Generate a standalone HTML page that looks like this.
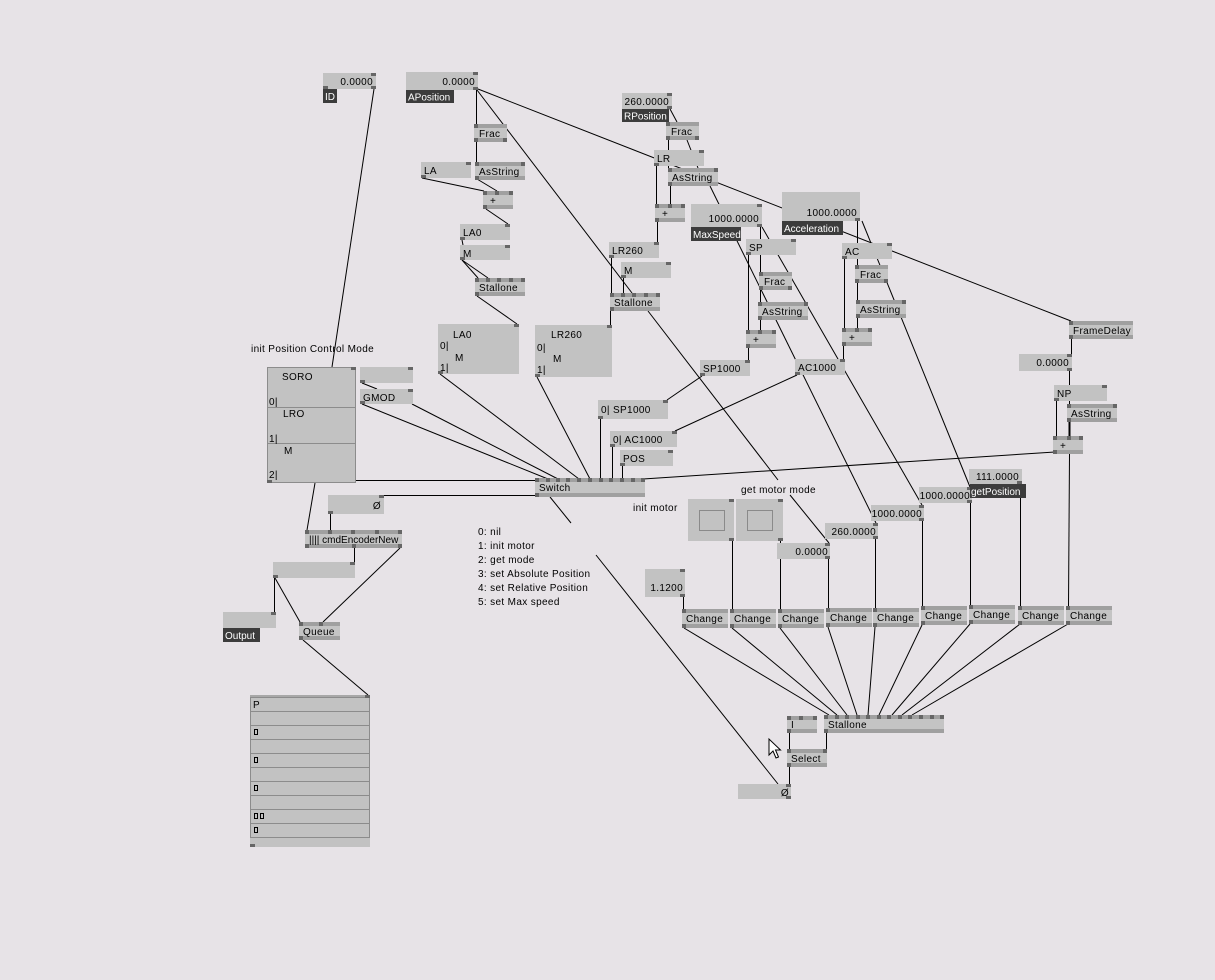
<!DOCTYPE html>
<html><head><meta charset="utf-8"><style>
html,body{margin:0;padding:0;background:#e7e3e7;}
svg{display:block;}
svg text{font-family:"Liberation Sans",sans-serif;font-size:10px;fill:#000;letter-spacing:0.35px;}
svg text.w{fill:#fff;letter-spacing:0;}
svg text.ns{letter-spacing:0;}
.ln{stroke:#000;stroke-width:1;fill:none;}
.bd{fill:#c4c4c4;}
.bn{fill:#a0a0a0;}
.io{fill:#c2c2c2;}
.p{fill:#666;}
.lb{fill:#3c3c3c;}
.fr{fill:#c2c2c2;stroke:#8c8c8c;stroke-width:1;}
</style></head><body>
<svg width="1215" height="980" viewBox="0 0 1215 980" xmlns="http://www.w3.org/2000/svg">
<rect x="0" y="0" width="1215" height="980" fill="#e7e3e7"/>
<g class="ln">
<line x1="374" y1="89" x2="332" y2="367"/>
<line x1="476.5" y1="90" x2="476.5" y2="124"/>
<line x1="478" y1="89" x2="1071" y2="321"/>
<line x1="477" y1="90" x2="632" y2="293"/>
<line x1="476.5" y1="142" x2="476.5" y2="162"/>
<line x1="477" y1="179" x2="497" y2="191"/>
<line x1="422" y1="178" x2="484" y2="191"/>
<line x1="486" y1="209" x2="508" y2="224"/>
<line x1="462" y1="240" x2="463" y2="245"/>
<line x1="462" y1="260" x2="478" y2="278"/>
<line x1="462" y1="260" x2="488" y2="278"/>
<line x1="477" y1="296" x2="517" y2="324"/>
<line x1="440" y1="374" x2="579" y2="479"/>
<line x1="537" y1="377" x2="590" y2="479"/>
<line x1="362" y1="404" x2="548" y2="479"/>
<line x1="412" y1="404" x2="558" y2="479"/>
<line x1="600.5" y1="419" x2="600.5" y2="479"/>
<line x1="612.5" y1="447" x2="612.5" y2="479"/>
<line x1="622.5" y1="466" x2="622.5" y2="479"/>
<line x1="356" y1="480.5" x2="537" y2="480.5"/>
<line x1="382" y1="495.5" x2="537" y2="495.5"/>
<line x1="643" y1="479" x2="1055" y2="452"/>
<line x1="550" y1="497" x2="571" y2="523"/>
<line x1="596" y1="555" x2="778" y2="784"/>
<line x1="315" y1="483" x2="307" y2="530"/>
<line x1="330.5" y1="514" x2="330.5" y2="530"/>
<line x1="354.5" y1="548" x2="354.5" y2="562"/>
<line x1="400" y1="548" x2="323" y2="622"/>
<line x1="274.5" y1="578" x2="274.5" y2="612"/>
<line x1="275" y1="578" x2="300" y2="622"/>
<line x1="303" y1="640" x2="368" y2="695"/>
<line x1="362" y1="383" x2="377" y2="389"/>
<line x1="670" y1="109" x2="677" y2="122"/>
<line x1="668.5" y1="140" x2="668.5" y2="168"/>
<line x1="687" y1="140" x2="698" y2="168"/>
<line x1="656.5" y1="166" x2="656.5" y2="204"/>
<line x1="670.5" y1="186" x2="670.5" y2="204"/>
<line x1="657.5" y1="222" x2="657.5" y2="242"/>
<line x1="611.5" y1="258" x2="611.5" y2="293"/>
<line x1="623.5" y1="278" x2="623.5" y2="293"/>
<line x1="610.5" y1="311" x2="610.5" y2="325"/>
<line x1="648" y1="311" x2="778" y2="480"/>
<line x1="790" y1="495" x2="829" y2="543"/>
<line x1="710" y1="186" x2="876" y2="523"/>
<line x1="762" y1="227" x2="922" y2="505"/>
<line x1="862" y1="221" x2="970" y2="487"/>
<line x1="760.5" y1="227" x2="760.5" y2="330"/>
<line x1="748.5" y1="255" x2="748.5" y2="330"/>
<line x1="748.5" y1="348" x2="748.5" y2="360"/>
<line x1="702" y1="376" x2="667" y2="400"/>
<line x1="797" y1="375" x2="675" y2="431"/>
<line x1="843.5" y1="346" x2="843.5" y2="359"/>
<line x1="857.5" y1="221" x2="857.5" y2="328"/>
<line x1="844.5" y1="259" x2="844.5" y2="328"/>
<line x1="1071.5" y1="339" x2="1071.5" y2="354"/>
<line x1="1069.5" y1="371" x2="1069.5" y2="404"/>
<line x1="1056.5" y1="401" x2="1056.5" y2="436"/>
<line x1="1069.5" y1="422" x2="1069.5" y2="436" stroke-width="2"/>
<line x1="1069.5" y1="454" x2="1068.5" y2="606"/>
<line x1="1020.5" y1="484" x2="1020.5" y2="606"/>
<line x1="970.5" y1="503" x2="970.5" y2="605"/>
<line x1="922.5" y1="521" x2="922.5" y2="606"/>
<line x1="875.5" y1="539" x2="875.5" y2="608"/>
<line x1="828.5" y1="559" x2="828.5" y2="608"/>
<line x1="780.5" y1="541" x2="780.5" y2="609"/>
<line x1="732.5" y1="541" x2="732.5" y2="609"/>
<line x1="683.5" y1="597" x2="683.5" y2="609"/>
<line x1="684" y1="628" x2="829" y2="715"/>
<line x1="732" y1="628" x2="837" y2="715"/>
<line x1="780" y1="628" x2="847" y2="715"/>
<line x1="828" y1="627" x2="857" y2="715"/>
<line x1="875" y1="627" x2="868" y2="715"/>
<line x1="922" y1="625" x2="879" y2="715"/>
<line x1="970" y1="624" x2="892" y2="715"/>
<line x1="1020" y1="624" x2="902" y2="715"/>
<line x1="1068" y1="624" x2="912" y2="715"/>
<line x1="789.5" y1="733" x2="789.5" y2="749"/>
<line x1="826.5" y1="733" x2="826.5" y2="749"/>
<line x1="789.5" y1="767" x2="789.5" y2="784"/>
</g>

<g>
<rect class="io" x="323" y="73" width="53" height="16"/><rect class="p" x="371" y="73" width="5" height="3"/><rect class="p" x="323" y="86" width="5" height="3"/><rect class="p" x="371" y="86" width="5" height="3"/>
<text x="373" y="85" text-anchor="end">0.0000</text>
<rect class="lb" x="323" y="89" width="14" height="14"/><text class="w" x="325" y="100">ID</text>
<rect class="io" x="406" y="72" width="72" height="18"/><rect class="p" x="473" y="72" width="5" height="3"/><rect class="p" x="473" y="87" width="5" height="3"/>
<text x="475" y="85" text-anchor="end">0.0000</text>
<rect class="lb" x="406" y="90" width="48" height="13"/><text class="w" x="408" y="100.5">APosition</text>
<rect class="io" x="421" y="162" width="50" height="16"/><rect class="p" x="466" y="162" width="5" height="3"/><rect class="p" x="421" y="175" width="5" height="3"/>
<text x="424" y="174">LA</text>
<rect class="io" x="460" y="224" width="50" height="16"/><rect class="p" x="505" y="224" width="5" height="3"/><rect class="p" x="460" y="237" width="5" height="3"/>
<text x="463" y="236">LA0</text>
<rect class="io" x="460" y="245" width="50" height="15"/><rect class="p" x="505" y="245" width="5" height="3"/><rect class="p" x="460" y="257" width="5" height="3"/>
<text x="463" y="257">M</text>
<rect class="io" x="438" y="324" width="81" height="50"/><rect class="p" x="514" y="324" width="5" height="3"/><rect class="p" x="438" y="371" width="5" height="3"/>
<text x="453" y="338">LA0</text><text x="440" y="349">0|</text><text x="455" y="361">M</text><text x="440" y="371">1|</text>
<rect class="io" x="622" y="93" width="50" height="16"/><rect class="p" x="667" y="93" width="5" height="3"/><rect class="p" x="667" y="106" width="5" height="3"/>
<text x="669" y="105" text-anchor="end">260.0000</text>
<rect class="lb" x="622" y="109" width="47" height="13"/><text class="w" x="624" y="119.5">RPosition</text>
<rect class="io" x="654" y="150" width="50" height="16"/><rect class="p" x="699" y="150" width="5" height="3"/><rect class="p" x="654" y="163" width="5" height="3"/>
<text x="657" y="162">LR</text>
<rect class="io" x="691" y="204" width="71" height="23"/><rect class="p" x="757" y="204" width="5" height="3"/><rect class="p" x="757" y="224" width="5" height="3"/>
<text x="759" y="222" text-anchor="end">1000.0000</text>
<rect class="lb" x="691" y="227" width="50" height="14"/><text class="w" x="693" y="238">MaxSpeed</text>
<rect class="io" x="782" y="192" width="78" height="29"/><rect class="p" x="855" y="218" width="5" height="3"/>
<text x="857" y="216" text-anchor="end">1000.0000</text>
<rect class="lb" x="782" y="221" width="61" height="14"/><text class="w" x="784" y="232">Acceleration</text>
<rect class="io" x="609" y="242" width="50" height="16"/><rect class="p" x="654" y="242" width="5" height="3"/><rect class="p" x="609" y="255" width="5" height="3"/>
<text x="612" y="254">LR260</text>
<rect class="io" x="621" y="262" width="50" height="16"/><rect class="p" x="666" y="262" width="5" height="3"/><rect class="p" x="621" y="275" width="5" height="3"/>
<text x="624" y="274">M</text>
<rect class="io" x="535" y="325" width="77" height="52"/><rect class="p" x="607" y="325" width="5" height="3"/><rect class="p" x="535" y="374" width="5" height="3"/>
<text x="551" y="338">LR260</text><text x="537" y="351">0|</text><text x="553" y="362">M</text><text x="537" y="373">1|</text>
<rect class="io" x="746" y="239" width="50" height="16"/><rect class="p" x="791" y="239" width="5" height="3"/><rect class="p" x="746" y="252" width="5" height="3"/>
<text x="749" y="251">SP</text>
<rect class="io" x="700" y="360" width="50" height="16"/><rect class="p" x="745" y="360" width="5" height="3"/><rect class="p" x="700" y="373" width="5" height="3"/>
<text x="703" y="372">SP1000</text>
<rect class="io" x="795" y="359" width="50" height="16"/><rect class="p" x="840" y="359" width="5" height="3"/><rect class="p" x="795" y="372" width="5" height="3"/>
<text x="798" y="371">AC1000</text>
<rect class="io" x="842" y="243" width="50" height="16"/><rect class="p" x="887" y="243" width="5" height="3"/><rect class="p" x="842" y="256" width="5" height="3"/>
<text x="845" y="255">AC</text>
<rect class="io" x="1019" y="354" width="53" height="17"/><rect class="p" x="1067" y="354" width="5" height="3"/><rect class="p" x="1067" y="368" width="5" height="3"/>
<text x="1069" y="366" text-anchor="end">0.0000</text>
<rect class="io" x="1054" y="385" width="53" height="16"/><rect class="p" x="1102" y="385" width="5" height="3"/><rect class="p" x="1054" y="398" width="5" height="3"/>
<text x="1057" y="397">NP</text>
<rect class="io" x="919" y="487" width="53" height="16"/><rect class="p" x="967" y="487" width="5" height="3"/><rect class="p" x="967" y="500" width="5" height="3"/>
<text x="970" y="499" text-anchor="end">1000.0000</text>
<rect class="io" x="969" y="469" width="53" height="15"/><rect class="p" x="1017" y="481" width="5" height="3"/>
<text x="1019" y="480" text-anchor="end">111.0000</text>
<rect class="lb" x="970" y="484" width="56" height="14"/><text class="w" x="971" y="495">getPosition</text>
<rect class="io" x="871" y="505" width="53" height="16"/><rect class="p" x="919" y="505" width="5" height="3"/><rect class="p" x="919" y="518" width="5" height="3"/>
<text x="922" y="517" text-anchor="end">1000.0000</text>
<rect class="io" x="825" y="523" width="53" height="16"/><rect class="p" x="873" y="523" width="5" height="3"/><rect class="p" x="873" y="536" width="5" height="3"/>
<text x="876" y="535" text-anchor="end">260.0000</text>
<rect class="io" x="777" y="543" width="53" height="16"/><rect class="p" x="825" y="543" width="5" height="3"/><rect class="p" x="825" y="556" width="5" height="3"/>
<text x="828" y="555" text-anchor="end">0.0000</text>
<rect class="io" x="688" y="499" width="46" height="42"/><rect x="699.5" y="510.5" width="25" height="20" fill="none" stroke="#8a8a8a"/><rect class="p" x="729" y="499" width="5" height="3"/><rect class="p" x="729" y="538" width="5" height="3"/>
<rect class="io" x="736" y="499" width="47" height="42"/><rect x="747.5" y="510.5" width="25" height="20" fill="none" stroke="#8a8a8a"/><rect class="p" x="778" y="499" width="5" height="3"/><rect class="p" x="778" y="538" width="5" height="3"/>
<rect class="io" x="645" y="569" width="40" height="28"/><rect class="p" x="680" y="569" width="5" height="3"/><rect class="p" x="680" y="594" width="5" height="3"/>
<text x="683" y="591" text-anchor="end">1.1200</text>
<rect class="io" x="598" y="400" width="70" height="19"/><rect class="p" x="663" y="400" width="5" height="3"/><rect class="p" x="598" y="416" width="5" height="3"/>
<text x="601" y="413">0| SP1000</text>
<rect class="io" x="610" y="431" width="67" height="16"/><rect class="p" x="672" y="431" width="5" height="3"/><rect class="p" x="610" y="444" width="5" height="3"/>
<text x="613" y="443">0| AC1000</text>
<rect class="io" x="620" y="450" width="53" height="16"/><rect class="p" x="668" y="450" width="5" height="3"/><rect class="p" x="620" y="463" width="5" height="3"/>
<text x="623" y="462">POS</text>
<rect class="fr" x="267.5" y="367.5" width="88" height="115"/>
<line x1="267" y1="407.5" x2="356" y2="407.5" stroke="#8c8c8c"/>
<line x1="267" y1="443.5" x2="356" y2="443.5" stroke="#8c8c8c"/>
<rect class="p" x="351" y="367" width="5" height="3"/><rect class="p" x="267" y="480" width="5" height="3"/>
<text x="282" y="380">SORO</text><text x="269" y="405">0|</text>
<text x="283" y="417">LRO</text><text x="269" y="442">1|</text>
<text x="284" y="454">M</text><text x="269" y="478">2|</text>
<rect class="io" x="360" y="367" width="53" height="16"/><rect class="p" x="408" y="367" width="5" height="3"/><rect class="p" x="360" y="380" width="5" height="3"/>
<rect class="io" x="360" y="389" width="53" height="15"/><rect class="p" x="408" y="389" width="5" height="3"/><rect class="p" x="360" y="401" width="5" height="3"/>
<text x="363" y="401">GMOD</text>
<rect class="io" x="328" y="495" width="56" height="19"/><rect class="p" x="379" y="495" width="5" height="3"/><rect class="p" x="328" y="511" width="5" height="3"/>
<text x="381" y="509" text-anchor="end">Ø</text>
<rect class="io" x="273" y="562" width="82" height="16"/><rect class="p" x="350" y="562" width="5" height="3"/><rect class="p" x="273" y="575" width="5" height="3"/>
<rect class="io" x="223" y="612" width="53" height="16"/><rect class="p" x="271" y="612" width="5" height="3"/>
<rect class="lb" x="223" y="628" width="37" height="14"/><text class="w" x="225" y="639">Output</text>
<rect class="io" x="250" y="695" width="120" height="152"/>
<rect x="250" y="695" width="120" height="2" fill="#a8a8a8"/>
<rect x="250.5" y="697.5" width="119" height="140" fill="none" stroke="#8c8c8c"/>
<g stroke="#8c8c8c">
<line x1="250" y1="711.5" x2="370" y2="711.5"/><line x1="250" y1="725.5" x2="370" y2="725.5"/>
<line x1="250" y1="739.5" x2="370" y2="739.5"/><line x1="250" y1="753.5" x2="370" y2="753.5"/>
<line x1="250" y1="767.5" x2="370" y2="767.5"/><line x1="250" y1="781.5" x2="370" y2="781.5"/>
<line x1="250" y1="795.5" x2="370" y2="795.5"/><line x1="250" y1="809.5" x2="370" y2="809.5"/>
<line x1="250" y1="823.5" x2="370" y2="823.5"/>
</g>
<rect class="p" x="365" y="695" width="5" height="3"/><rect class="p" x="250" y="844" width="5" height="3"/>
<text x="253" y="708">P</text>
<g fill="none" stroke="#000">
<rect x="254.5" y="729.5" width="3" height="5"/><rect x="254.5" y="757.5" width="3" height="5"/>
<rect x="254.5" y="785.5" width="3" height="5"/><rect x="254.5" y="813.5" width="3" height="5"/>
<rect x="260.5" y="813.5" width="3" height="5"/><rect x="254.5" y="827.5" width="3" height="5"/>
</g>
<rect class="io" x="738" y="784" width="53" height="15"/><rect class="p" x="786" y="784" width="5" height="3"/><rect class="p" x="786" y="796" width="5" height="3"/>
<text x="789" y="796" text-anchor="end">Ø</text>
</g>

<g>
<rect class="bd" x="474" y="124" width="33" height="18"/><rect class="bn" x="474" y="124" width="33" height="4"/><rect class="bn" x="474" y="138" width="33" height="4"/>
<rect class="p" x="474" y="124" width="4" height="4"/><rect class="p" x="474" y="138" width="4" height="4"/><rect class="p" x="503" y="138" width="4" height="4"/>
<text x="479" y="137">Frac</text>
<rect class="bd" x="475" y="162" width="50" height="18"/><rect class="bn" x="475" y="162" width="50" height="4"/><rect class="bn" x="475" y="176" width="50" height="4"/>
<rect class="p" x="475" y="162" width="4" height="4"/><rect class="p" x="521" y="162" width="4" height="4"/><rect class="p" x="475" y="176" width="4" height="4"/>
<text x="479" y="175">AsString</text>
<rect class="bd" x="483" y="191" width="30" height="18"/><rect class="bn" x="483" y="191" width="30" height="4"/><rect class="bn" x="483" y="205" width="30" height="4"/>
<rect class="p" x="483" y="191" width="4" height="4"/><rect class="p" x="495" y="191" width="4" height="4"/><rect class="p" x="509" y="191" width="4" height="4"/><rect class="p" x="483" y="205" width="4" height="4"/>
<text x="490" y="204">+</text>
<rect class="bd" x="475" y="278" width="50" height="18"/><rect class="bn" x="475" y="278" width="50" height="4"/><rect class="bn" x="475" y="292" width="50" height="4"/>
<rect class="p" x="475" y="278" width="4" height="4"/><rect class="p" x="486" y="278" width="4" height="4"/><rect class="p" x="497" y="278" width="4" height="4"/><rect class="p" x="509" y="278" width="4" height="4"/><rect class="p" x="521" y="278" width="4" height="4"/><rect class="p" x="475" y="292" width="4" height="4"/>
<text x="479" y="291">Stallone</text>
<rect class="bd" x="666" y="122" width="33" height="18"/><rect class="bn" x="666" y="122" width="33" height="4"/><rect class="bn" x="666" y="136" width="33" height="4"/>
<rect class="p" x="666" y="122" width="4" height="4"/><rect class="p" x="666" y="136" width="4" height="4"/><rect class="p" x="695" y="136" width="4" height="4"/>
<text x="671" y="135">Frac</text>
<rect class="bd" x="668" y="168" width="50" height="18"/><rect class="bn" x="668" y="168" width="50" height="4"/><rect class="bn" x="668" y="182" width="50" height="4"/>
<rect class="p" x="668" y="168" width="4" height="4"/><rect class="p" x="714" y="168" width="4" height="4"/><rect class="p" x="668" y="182" width="4" height="4"/>
<text x="672" y="181">AsString</text>
<rect class="bd" x="655" y="204" width="30" height="18"/><rect class="bn" x="655" y="204" width="30" height="4"/><rect class="bn" x="655" y="218" width="30" height="4"/>
<rect class="p" x="655" y="204" width="4" height="4"/><rect class="p" x="668" y="204" width="4" height="4"/><rect class="p" x="681" y="204" width="4" height="4"/><rect class="p" x="655" y="218" width="4" height="4"/>
<text x="662" y="217">+</text>
<rect class="bd" x="610" y="293" width="50" height="18"/><rect class="bn" x="610" y="293" width="50" height="4"/><rect class="bn" x="610" y="307" width="50" height="4"/>
<rect class="p" x="610" y="293" width="4" height="4"/><rect class="p" x="621" y="293" width="4" height="4"/><rect class="p" x="632" y="293" width="4" height="4"/><rect class="p" x="644" y="293" width="4" height="4"/><rect class="p" x="656" y="293" width="4" height="4"/><rect class="p" x="610" y="307" width="4" height="4"/>
<text x="614" y="306">Stallone</text>
<rect class="bd" x="759" y="272" width="33" height="18"/><rect class="bn" x="759" y="272" width="33" height="4"/><rect class="bn" x="759" y="286" width="33" height="4"/>
<rect class="p" x="759" y="272" width="4" height="4"/><rect class="p" x="759" y="286" width="4" height="4"/><rect class="p" x="788" y="286" width="4" height="4"/>
<text x="764" y="285">Frac</text>
<rect class="bd" x="758" y="302" width="50" height="18"/><rect class="bn" x="758" y="302" width="50" height="4"/><rect class="bn" x="758" y="316" width="50" height="4"/>
<rect class="p" x="758" y="302" width="4" height="4"/><rect class="p" x="804" y="302" width="4" height="4"/><rect class="p" x="758" y="316" width="4" height="4"/>
<text x="762" y="315">AsString</text>
<rect class="bd" x="746" y="330" width="30" height="18"/><rect class="bn" x="746" y="330" width="30" height="4"/><rect class="bn" x="746" y="344" width="30" height="4"/>
<rect class="p" x="746" y="330" width="4" height="4"/><rect class="p" x="758" y="330" width="4" height="4"/><rect class="p" x="772" y="330" width="4" height="4"/><rect class="p" x="746" y="344" width="4" height="4"/>
<text x="753" y="343">+</text>
<rect class="bd" x="855" y="265" width="33" height="18"/><rect class="bn" x="855" y="265" width="33" height="4"/><rect class="bn" x="855" y="279" width="33" height="4"/>
<rect class="p" x="855" y="265" width="4" height="4"/><rect class="p" x="855" y="279" width="4" height="4"/><rect class="p" x="884" y="279" width="4" height="4"/>
<text x="860" y="278">Frac</text>
<rect class="bd" x="856" y="300" width="50" height="18"/><rect class="bn" x="856" y="300" width="50" height="4"/><rect class="bn" x="856" y="314" width="50" height="4"/>
<rect class="p" x="856" y="300" width="4" height="4"/><rect class="p" x="902" y="300" width="4" height="4"/><rect class="p" x="856" y="314" width="4" height="4"/>
<text x="860" y="313">AsString</text>
<rect class="bd" x="842" y="328" width="30" height="18"/><rect class="bn" x="842" y="328" width="30" height="4"/><rect class="bn" x="842" y="342" width="30" height="4"/>
<rect class="p" x="842" y="328" width="4" height="4"/><rect class="p" x="855" y="328" width="4" height="4"/><rect class="p" x="868" y="328" width="4" height="4"/><rect class="p" x="842" y="342" width="4" height="4"/>
<text x="849" y="341">+</text>
<rect class="bd" x="1069" y="321" width="64" height="18"/><rect class="bn" x="1069" y="321" width="64" height="4"/><rect class="bn" x="1069" y="335" width="64" height="4"/>
<rect class="p" x="1069" y="321" width="4" height="4"/><rect class="p" x="1069" y="335" width="4" height="4"/>
<text x="1073" y="334">FrameDelay</text>
<rect class="bd" x="1067" y="404" width="50" height="18"/><rect class="bn" x="1067" y="404" width="50" height="4"/><rect class="bn" x="1067" y="418" width="50" height="4"/>
<rect class="p" x="1067" y="404" width="4" height="4"/><rect class="p" x="1113" y="404" width="4" height="4"/><rect class="p" x="1067" y="418" width="4" height="4"/>
<text x="1071" y="417">AsString</text>
<rect class="bd" x="1053" y="436" width="30" height="18"/><rect class="bn" x="1053" y="436" width="30" height="4"/><rect class="bn" x="1053" y="450" width="30" height="4"/>
<rect class="p" x="1053" y="436" width="4" height="4"/><rect class="p" x="1067" y="436" width="4" height="4"/><rect class="p" x="1079" y="436" width="4" height="4"/><rect class="p" x="1053" y="450" width="4" height="4"/>
<text x="1060" y="449">+</text>
<rect class="bd" x="535" y="478" width="110" height="19"/><rect class="bn" x="535" y="478" width="110" height="4"/><rect class="bn" x="535" y="493" width="110" height="4"/>
<rect class="p" x="535" y="478" width="4" height="4"/><rect class="p" x="546" y="478" width="4" height="4"/><rect class="p" x="556" y="478" width="4" height="4"/><rect class="p" x="566" y="478" width="4" height="4"/><rect class="p" x="577" y="478" width="4" height="4"/><rect class="p" x="588" y="478" width="4" height="4"/><rect class="p" x="599" y="478" width="4" height="4"/><rect class="p" x="609" y="478" width="4" height="4"/><rect class="p" x="620" y="478" width="4" height="4"/><rect class="p" x="631" y="478" width="4" height="4"/><rect class="p" x="641" y="478" width="4" height="4"/>
<rect class="p" x="535" y="493" width="4" height="4"/>
<text x="539" y="491">Switch</text>
<rect class="bd" x="305" y="530" width="97" height="18"/><rect class="bn" x="305" y="530" width="97" height="4"/><rect class="bn" x="305" y="544" width="97" height="4"/>
<rect class="p" x="305" y="530" width="4" height="4"/><rect class="p" x="328" y="530" width="4" height="4"/><rect class="p" x="351" y="530" width="4" height="4"/><rect class="p" x="375" y="530" width="4" height="4"/><rect class="p" x="398" y="530" width="4" height="4"/>
<rect class="p" x="305" y="544" width="4" height="4"/><rect class="p" x="352" y="544" width="4" height="4"/><rect class="p" x="398" y="544" width="4" height="4"/>
<text class="ns" x="309" y="543">|||| cmdEncoderNew</text>
<rect class="bd" x="299" y="622" width="41" height="18"/><rect class="bn" x="299" y="622" width="41" height="4"/><rect class="bn" x="299" y="636" width="41" height="4"/>
<rect class="p" x="299" y="622" width="4" height="4"/><rect class="p" x="319" y="622" width="4" height="4"/><rect class="p" x="299" y="636" width="4" height="4"/>
<text x="303" y="635">Queue</text>
<g>
<rect class="bd" x="682" y="609" width="46" height="19"/><rect class="bn" x="682" y="609" width="46" height="4"/><rect class="bn" x="682" y="624" width="46" height="4"/><rect class="p" x="682" y="609" width="4" height="4"/><rect class="p" x="682" y="624" width="4" height="4"/><text x="686" y="622">Change</text>
<rect class="bd" x="730" y="609" width="46" height="19"/><rect class="bn" x="730" y="609" width="46" height="4"/><rect class="bn" x="730" y="624" width="46" height="4"/><rect class="p" x="730" y="609" width="4" height="4"/><rect class="p" x="730" y="624" width="4" height="4"/><text x="734" y="622">Change</text>
<rect class="bd" x="778" y="609" width="46" height="19"/><rect class="bn" x="778" y="609" width="46" height="4"/><rect class="bn" x="778" y="624" width="46" height="4"/><rect class="p" x="778" y="609" width="4" height="4"/><rect class="p" x="778" y="624" width="4" height="4"/><text x="782" y="622">Change</text>
<rect class="bd" x="826" y="608" width="46" height="19"/><rect class="bn" x="826" y="608" width="46" height="4"/><rect class="bn" x="826" y="623" width="46" height="4"/><rect class="p" x="826" y="608" width="4" height="4"/><rect class="p" x="826" y="623" width="4" height="4"/><text x="830" y="621">Change</text>
<rect class="bd" x="873" y="608" width="46" height="19"/><rect class="bn" x="873" y="608" width="46" height="4"/><rect class="bn" x="873" y="623" width="46" height="4"/><rect class="p" x="873" y="608" width="4" height="4"/><rect class="p" x="873" y="623" width="4" height="4"/><text x="877" y="621">Change</text>
<rect class="bd" x="921" y="606" width="46" height="19"/><rect class="bn" x="921" y="606" width="46" height="4"/><rect class="bn" x="921" y="621" width="46" height="4"/><rect class="p" x="921" y="606" width="4" height="4"/><rect class="p" x="921" y="621" width="4" height="4"/><text x="925" y="619">Change</text>
<rect class="bd" x="969" y="605" width="46" height="19"/><rect class="bn" x="969" y="605" width="46" height="4"/><rect class="bn" x="969" y="620" width="46" height="4"/><rect class="p" x="969" y="605" width="4" height="4"/><rect class="p" x="969" y="620" width="4" height="4"/><text x="973" y="618">Change</text>
<rect class="bd" x="1018" y="606" width="46" height="19"/><rect class="bn" x="1018" y="606" width="46" height="4"/><rect class="bn" x="1018" y="621" width="46" height="4"/><rect class="p" x="1018" y="606" width="4" height="4"/><rect class="p" x="1018" y="621" width="4" height="4"/><text x="1022" y="619">Change</text>
<rect class="bd" x="1066" y="606" width="46" height="19"/><rect class="bn" x="1066" y="606" width="46" height="4"/><rect class="bn" x="1066" y="621" width="46" height="4"/><rect class="p" x="1066" y="606" width="4" height="4"/><rect class="p" x="1066" y="621" width="4" height="4"/><text x="1070" y="619">Change</text>
</g>
<rect class="bd" x="824" y="715" width="120" height="18"/><rect class="bn" x="824" y="715" width="120" height="4"/><rect class="bn" x="824" y="729" width="120" height="4"/>
<rect class="p" x="824" y="715" width="4" height="4"/><rect class="p" x="835" y="715" width="4" height="4"/><rect class="p" x="845" y="715" width="4" height="4"/><rect class="p" x="856" y="715" width="4" height="4"/><rect class="p" x="866" y="715" width="4" height="4"/><rect class="p" x="877" y="715" width="4" height="4"/><rect class="p" x="887" y="715" width="4" height="4"/><rect class="p" x="898" y="715" width="4" height="4"/><rect class="p" x="908" y="715" width="4" height="4"/><rect class="p" x="919" y="715" width="4" height="4"/><rect class="p" x="930" y="715" width="4" height="4"/><rect class="p" x="940" y="715" width="4" height="4"/>
<rect class="p" x="824" y="729" width="4" height="4"/>
<text x="828" y="728">Stallone</text>
<rect class="bd" x="787" y="716" width="30" height="17"/><rect class="bn" x="787" y="716" width="30" height="4"/><rect class="bn" x="787" y="729" width="30" height="4"/>
<rect class="p" x="787" y="716" width="4" height="4"/><rect class="p" x="799" y="716" width="4" height="4"/><rect class="p" x="813" y="716" width="4" height="4"/><rect class="p" x="787" y="729" width="4" height="4"/>
<text x="791" y="728">I</text>
<rect class="bd" x="787" y="749" width="40" height="18"/><rect class="bn" x="787" y="749" width="40" height="4"/><rect class="bn" x="787" y="763" width="40" height="4"/>
<rect class="p" x="787" y="749" width="4" height="4"/><rect class="p" x="823" y="749" width="4" height="4"/><rect class="p" x="787" y="763" width="4" height="4"/>
<text x="791" y="762">Select</text>
</g>

<text x="251" y="352">init Position Control Mode</text>
<text x="633" y="511">init motor</text>
<text x="741" y="493">get motor mode</text>
<text x="478" y="535">0: nil</text>
<text x="478" y="549">1: init motor</text>
<text x="478" y="563">2: get mode</text>
<text x="478" y="577">3: set Absolute Position</text>
<text x="478" y="591">4: set Relative Position</text>
<text x="478" y="605">5: set Max speed</text>

<polygon points="769,739 769,755 773,751 776,758 778.5,757 775.5,750 780.5,750" fill="#fff" stroke="#000" stroke-width="1"/>
</svg>
</body></html>
